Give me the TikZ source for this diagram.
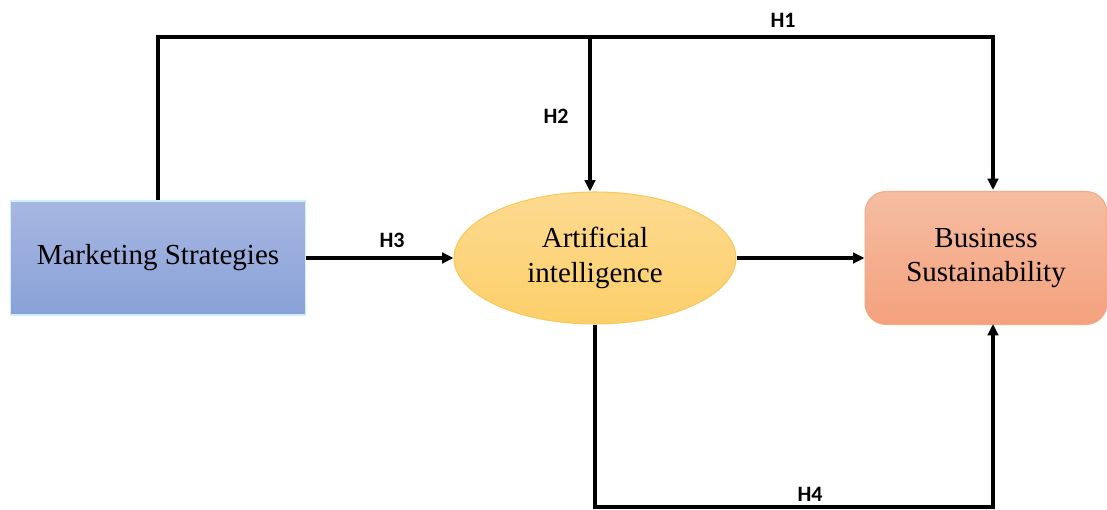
\documentclass[tikz,border=0pt]{standalone}
\usepackage{fontspec}
\setmainfont{Liberation Serif}
\newfontfamily\hfont{Carlito}
\usetikzlibrary{positioning,calc,arrows.meta,shapes.geometric}
\newcommand*{\hlab}[1]{\hfont\bfseries\fontsize{12.5}{14}\selectfont #1}

\begin{document}
\begin{tikzpicture}[x=0.02cm,y=-0.02cm,
  conn/.style={line width=1.9pt},
  arr/.style={conn,-{Triangle[length=6.5pt,width=6pt]}},
  block/.style={font=\fontsize{16.5}{19.8}\selectfont,align=center,inner sep=0pt}]
% Fix the frame of the picture
\useasboundingbox (0,0) rectangle (1107,510);
% The three blocks
\node [block,draw=blue!30!cyan!20!white,line width=0.6pt,
  top color={rgb,255:red,167;green,183;blue,225},
  bottom color={rgb,255:red,137;green,161;blue,216},
  minimum width=5.92cm,minimum height=2.28cm] (ms) at (158,258)
  {Marketing Strategies};
\node [block,ellipse,draw={rgb,255:red,247;green,200;blue,90},line width=0.6pt,
  top color={rgb,255:red,253;green,218;blue,145},
  bottom color={rgb,255:red,252;green,207;blue,105},
  minimum width=5.64cm,minimum height=2.64cm] (ai) at (595,258)
  {Artificial\\intelligence};
\node [block,rounded corners=0.42cm,draw={rgb,255:red,244;green,170;blue,135},line width=0.6pt,
  top color={rgb,255:red,245;green,189;blue,162},
  bottom color={rgb,255:red,244;green,161;blue,125},
  minimum width=4.84cm,minimum height=2.66cm] (bs) at (986,258)
  {Business\\Sustainability};
% Corners of the upper and lower routes
\coordinate (top) at (590,37);
\coordinate (bsin) at (993,190);
\coordinate (bsout) at (993,324);
\coordinate (low) at (597,507);
% H1: over the top to Business Sustainability
\draw [arr] (ms.north) |- (top) -| (bsin);
% H2: down into Artificial intelligence
\draw [arr] (top) -- (top |- ai.north);
% H3 and the middle link
\draw [arr] (ms.east) -- (ai.west);
\draw [arr] (ai.east) -- (bs.west);
% H4: under the bottom to Business Sustainability
\draw [arr] (ai.south) |- (low) -| (bsout);
% Labels
\node (h1) at (783,20) {\hlab{H1}};
\node (h2) at (556,116) {\hlab{H2}};
\node (h3) at (392,240) {\hlab{H3}};
\node (h4) at (810,494) {\hlab{H4}};
\end{tikzpicture}
\end{document}
